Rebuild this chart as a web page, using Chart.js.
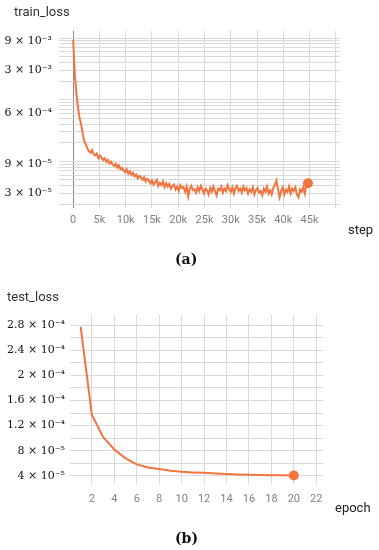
<!DOCTYPE html>
<html>
<head>
<meta charset="utf-8">
<script src="https://cdn.jsdelivr.net/npm/chart.js@4"></script>
<style>
  body { margin: 0; background: #fff; width: 379px; height: 550px; position: relative; overflow: hidden; font-family: Roboto, sans-serif; }
  canvas { position: absolute; left: 0; }
  .t { position: absolute; white-space: nowrap; line-height: 16px; }
  .title { font-size: 13px; color: #333; }
  .axis { font-size: 13px; color: #222; }
  .cap { font-family: 'DejaVu Serif', serif; font-weight: bold; font-size: 14px; color: #111; }
</style>
</head>
<body>
<canvas id="train" width="379" height="230" style="top:0"></canvas>
<canvas id="test" width="379" height="236" style="top:270px"></canvas>
<div class="t title" style="left:14px;top:4px">train_loss</div>
<div class="t axis" style="left:348px;top:222px">step</div>
<div class="t cap" style="left:175px;top:251px">(a)</div>
<div class="t title" style="left:7px;top:289px">test_loss</div>
<div class="t axis" style="left:335px;top:500px">epoch</div>
<div class="t cap" style="left:175px;top:530px">(b)</div>
<script>
// train_loss (a)
const trainSteps = [
  0, 300, 600, 900, 1200, 1500, 1800, 2100, 2400, 2700,
  3000, 3300, 3600, 3900, 4200, 4500, 4800, 5100, 5400, 5700,
  6000, 6300, 6600, 6900, 7200, 7500, 7800, 8100, 8400, 8700,
  9000, 9300, 9600, 9900, 10200, 10500, 10800, 11100, 11400, 11700,
  12000, 12300, 12600, 12900, 13200, 13500, 13800, 14100, 14400, 14700,
  15000, 15300, 15600, 15900, 16200, 16500, 16800, 17100, 17400, 17700,
  18000, 18300, 18600, 18900, 19200, 19500, 19800, 20100, 20400, 20700,
  21000, 21300, 21600, 21900, 22200, 22500, 22800, 23100, 23400, 23700,
  24000, 24300, 24600, 24900, 25200, 25500, 25800, 26100, 26400, 26700,
  27000, 27300, 27600, 27900, 28200, 28500, 28800, 29100, 29400, 29700,
  30000, 30300, 30600, 30900, 31200, 31500, 31800, 32100, 32400, 32700,
  33000, 33300, 33600, 33900, 34200, 34500, 34800, 35100, 35400, 35700,
  36000, 36300, 36600, 36900, 37200, 37500, 37800, 38100, 38400, 38700,
  39000, 39300, 39600, 39900, 40200, 40500, 40800, 41100, 41400, 41700,
  42000, 42300, 42600, 42900, 43200, 43500, 43800, 44100, 44400, 44700
];
const trainLoss = [
  9.3e-3, 2.6e-3, 1.3e-3, 7.6e-4, 5.2e-4, 4.0e-4, 2.9e-4, 2.1e-4, 1.9e-4, 1.62e-4,
  1.45e-4, 1.38e-4, 1.52e-4, 1.3e-4, 1.25e-4, 1.34e-4, 1.12e-4, 1.24e-4, 1.15e-4, 1.05e-4,
  1.12e-4, 9.8e-5, 1.06e-4, 9.2e-5, 9.9e-5, 8.9e-5, 8.4e-5, 9.1e-5, 7.9e-5, 8.6e-5,
  7.4e-5, 7.8e-5, 7.1e-5, 6.7e-5, 7.4e-5, 6.3e-5, 6.9e-5, 6.0e-5, 6.5e-5, 5.7e-5,
  6.1e-5, 5.3e-5, 5.8e-5, 5.5e-5, 5.0e-5, 5.5e-5, 4.7e-5, 5.2e-5, 4.9e-5, 4.4e-5,
  4.9e-5, 4.2e-5, 4.6e-5, 5.0e-5, 4.0e-5, 4.5e-5, 4.1e-5, 4.7e-5, 3.8e-5, 4.4e-5,
  3.9e-5, 4.3e-5, 3.6e-5, 4.0e-5, 4.2e-5, 3.5e-5, 3.9e-5, 3.3e-5, 4.1e-5, 3.7e-5,
  3.8e-5, 3.2e-5, 3.9e-5, 2.7e-5, 3.6e-5, 4.0e-5, 3.4e-5, 3.5e-5, 3.1e-5, 3.8e-5,
  3.3e-5, 4.0e-5, 3.5e-5, 3.0e-5, 3.6e-5, 3.4e-5, 2.9e-5, 3.7e-5, 3.2e-5, 3.9e-5,
  3.3e-5, 2.8e-5, 3.6e-5, 3.4e-5, 3.9e-5, 3.1e-5, 3.6e-5, 3.3e-5, 4.1e-5, 3.5e-5,
  3.2e-5, 3.8e-5, 3.0e-5, 3.7e-5, 4.0e-5, 3.3e-5, 3.6e-5, 3.1e-5, 3.9e-5, 3.4e-5,
  3.7e-5, 3.0e-5, 3.5e-5, 3.2e-5, 3.8e-5, 2.9e-5, 3.4e-5, 3.7e-5, 3.1e-5, 3.3e-5,
  2.8e-5, 3.6e-5, 3.2e-5, 3.9e-5, 3.0e-5, 3.4e-5, 2.9e-5, 3.7e-5, 4.2e-5, 4.9e-5,
  3.5e-5, 2.6e-5, 3.3e-5, 3.8e-5, 2.9e-5, 3.5e-5, 3.2e-5, 3.9e-5, 3.0e-5, 3.6e-5,
  3.3e-5, 3.8e-5, 2.9e-5, 2.6e-5, 3.5e-5, 3.2e-5, 3.8e-5, 3.0e-5, 4.3e-5, 4.4e-5
];
const stepTicks = [0, 5000, 10000, 15000, 20000, 25000, 30000, 35000, 40000, 45000, 50000];
const stepTickLabels = ['0', '5k', '10k', '15k', '20k', '25k', '30k', '35k', '40k', '45k', ''];
const trainLabelValues = [9e-3, 3e-3, 6e-4, 9e-5, 3e-5];

// test_loss (b)
const epochs = [1, 2, 3, 4, 5, 6, 7, 8, 9, 10, 11, 12, 13, 14, 15, 16, 17, 18, 19, 20];
const testLoss = [
  2.77e-4, 1.37e-4, 1.02e-4, 8.2e-5, 6.78e-5, 5.82e-5, 5.34e-5, 5.07e-5, 4.8e-5, 4.64e-5,
  4.55e-5, 4.48e-5, 4.37e-5, 4.28e-5, 4.22e-5, 4.17e-5, 4.14e-5, 4.11e-5, 4.08e-5, 4.05e-5
];
const epochTicks = [2, 4, 6, 8, 10, 12, 14, 16, 18, 20, 22];
const testGridValues = [4e-5, 6e-5, 8e-5, 1e-4, 1.2e-4, 1.4e-4, 1.6e-4, 1.8e-4, 2e-4, 2.2e-4, 2.4e-4, 2.6e-4, 2.8e-4];
const testLabelValues = [4e-5, 8e-5, 1.2e-4, 1.6e-4, 2e-4, 2.4e-4, 2.8e-4];

const LINE = '#f4743f';
const GRID = '#d9d9d9';
const SUP = { '-': '⁻', '0': '⁰', '1': '¹', '2': '²', '3': '³', '4': '⁴', '5': '⁵', '6': '⁶', '7': '⁷', '8': '⁸', '9': '⁹' };

// "9 × 10⁻³" style label
function sci(v) {
  const exp = Math.floor(Math.log10(v) + 1e-9);
  const mant = +(v / Math.pow(10, exp)).toFixed(2);
  return mant + ' × 10' + String(exp).split('').map(c => SUP[c]).join('');
}
const near = (a, b) => Math.abs(a - b) / b < 1e-6;
const yFont = { family: "'DejaVu Serif', serif", size: 11 };
const xFont = { family: 'Roboto, sans-serif', size: 11 };

function lastDot(ctx) {
  return ctx.dataIndex === ctx.dataset.data.length - 1 ? 4 : 0;
}

Chart.defaults.animation = false;

new Chart(document.getElementById('train'), {
  type: 'line',
  data: {
    datasets: [{
      data: trainSteps.map((s, i) => ({ x: s, y: trainLoss[i] })),
      borderColor: LINE,
      backgroundColor: LINE,
      borderWidth: 2,
      pointRadius: lastDot,
      pointHoverRadius: lastDot,
      tension: 0
    }]
  },
  options: {
    responsive: false,
    devicePixelRatio: 1,
    layout: { padding: { top: 31, right: 39, left: 0, bottom: 0 } },
    plugins: { legend: { display: false }, tooltip: { enabled: false } },
    scales: {
      x: {
        type: 'linear',
        min: -2700,
        max: 50800,
        border: { display: false },
        grid: { drawTicks: false, color: (c) => (c.tick && c.tick.value === 0 ? '#8a8a8a' : GRID) },
        ticks: {
          autoSkip: false, maxRotation: 0, padding: 6, color: '#808080', font: xFont,
          callback: (v) => stepTickLabels[stepTicks.indexOf(v)] ?? ''
        },
        afterBuildTicks: (scale) => { scale.ticks = stepTicks.map(v => ({ value: v })); },
        afterFit: (scale) => { scale.height = 22; }
      },
      y: {
        type: 'logarithmic',
        min: 1.75e-5,
        max: 1.3e-2,
        border: { display: false },
        grid: { drawTicks: false, color: GRID },
        ticks: {
          autoSkip: false, padding: 7, color: '#111', font: yFont,
          callback: (v) => (trainLabelValues.some(t => near(v, t)) ? sci(v) : '')
        },
        afterBuildTicks: (scale) => {
          const ticks = [];
          for (let e = -5; e <= -2; e++) {
            for (let m = 1; m <= 9; m++) {
              const v = m * Math.pow(10, e);
              if (v >= scale.min && v <= scale.max) ticks.push({ value: v });
            }
          }
          scale.ticks = ticks;
        },
        afterFit: (scale) => { scale.width = 59; }
      }
    }
  }
});

new Chart(document.getElementById('test'), {
  type: 'line',
  data: {
    datasets: [{
      data: epochs.map((e, i) => ({ x: e, y: testLoss[i] })),
      borderColor: LINE,
      backgroundColor: LINE,
      borderWidth: 2,
      pointRadius: lastDot,
      pointHoverRadius: lastDot,
      tension: 0
    }]
  },
  options: {
    responsive: false,
    devicePixelRatio: 1,
    layout: { padding: { top: 45, right: 56, left: 0, bottom: 0 } },
    plugins: { legend: { display: false }, tooltip: { enabled: false } },
    scales: {
      x: {
        type: 'linear',
        min: 0.05,
        max: 22.6,
        border: { display: false },
        grid: { drawTicks: false, color: GRID },
        ticks: { autoSkip: false, maxRotation: 0, padding: 9, color: '#808080', font: xFont },
        afterBuildTicks: (scale) => { scale.ticks = epochTicks.map(v => ({ value: v })); },
        afterFit: (scale) => { scale.height = 22; }
      },
      y: {
        type: 'linear',
        min: 2.7e-5,
        max: 2.96e-4,
        border: { display: false },
        grid: { drawTicks: false, color: GRID },
        ticks: {
          autoSkip: false, padding: 5, color: '#111', font: yFont,
          callback: (v) => (testLabelValues.some(t => near(v, t)) ? sci(v) : '')
        },
        afterBuildTicks: (scale) => { scale.ticks = testGridValues.map(v => ({ value: v })); },
        afterFit: (scale) => { scale.width = 70; }
      }
    }
  }
});
</script>
</body>
</html>
